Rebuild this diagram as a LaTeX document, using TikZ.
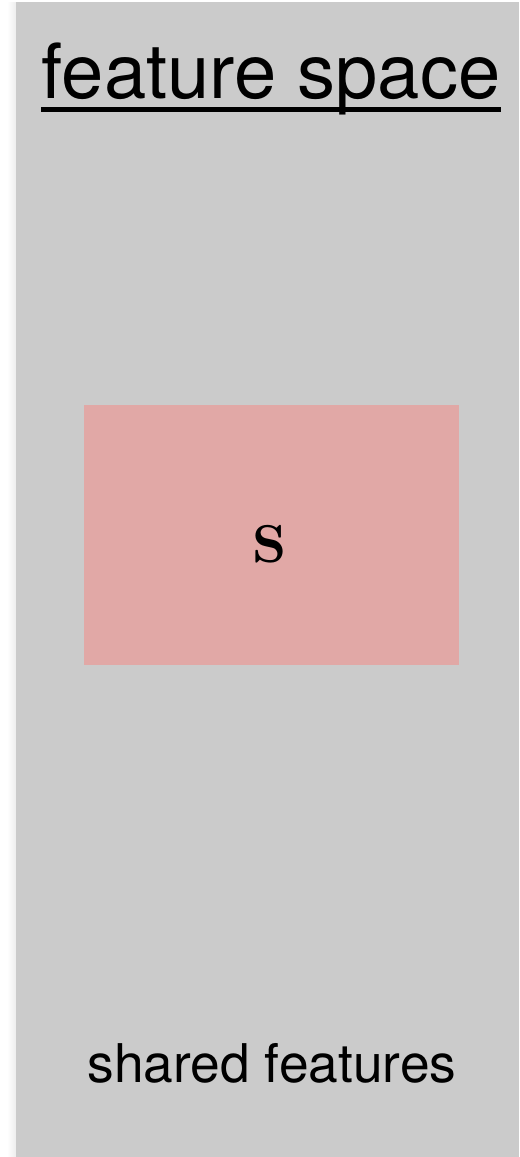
\documentclass[tikz,border=0pt]{standalone}
\usepackage{fontspec}
\setmainfont{TeX Gyre Heros}
\newfontfamily\setfont{lmroman10-bold.otf}
\usepackage{xcolor}
\usetikzlibrary{positioning,calc}

\definecolor{spacegray}{HTML}{CBCBCB}
\definecolor{sharedred}{HTML}{E1A8A6}

\begin{document}
\begin{tikzpicture}[
    x=0.75pt, y=-0.75pt,
    panel/.style={draw=none, fill=spacegray},
    region/.style={rectangle, fill=sharedred, inner sep=0pt, minimum width=281.25pt, minimum height=195pt},
    heading/.style={inner sep=0pt, anchor=base, font=\fontsize{57}{60}\selectfont},
    caption/.style={inner sep=0pt, anchor=base, font=\fontsize{40}{44}\selectfont}
]
    \useasboundingbox (0,0) rectangle (519,1157);

    % soft shadow on the left of the panel
    \foreach \i in {1,...,8}
        \fill [black, opacity=0.008*(9-\i)] (16-\i,2) rectangle (17-\i,1157);
    \fill [panel] (16,2) rectangle (519,1157);

    \node [heading] (title) at (271,98) {feature space};
    \draw [line width=3.75pt] ([yshift=-8.5pt]title.base west) -- ([yshift=-8.5pt]title.base east);

    \node [region] (shared) at (271.5,535) {};
    \node [inner sep=0pt, anchor=base, font=\setfont\fontsize{40}{44}\selectfont] (slabel) at (270,562) {S};

    \node [caption] (features) at (272,1082) {shared features};
\end{tikzpicture}
\end{document}
